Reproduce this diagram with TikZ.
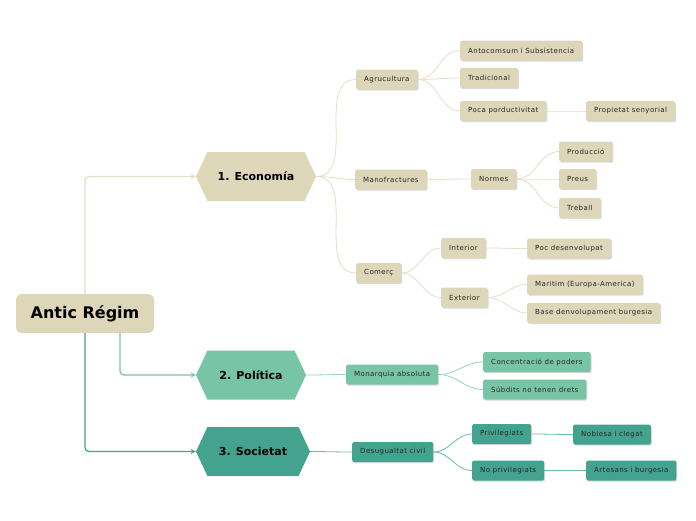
\documentclass[tikz,border=0pt]{standalone}
\usepackage{fontspec}
\setmainfont{DejaVu Sans}
\newfontfamily\itemfont[LetterSpace=6]{DejaVu Sans}
\usepackage{tikz}
\usetikzlibrary{arrows,shapes,positioning,shadows}
\usepackage{xcolor}
\definecolor{arbeige}{RGB}{221,214,185}
\definecolor{arbeigeline}{RGB}{228,222,198}
\definecolor{argreen}{RGB}{120,196,166}
\definecolor{argreenline}{RGB}{150,212,188}
\definecolor{arteal}{RGB}{67,163,142}
\definecolor{artealline}{RGB}{105,186,166}
\tikzstyle{root} = [rectangle, rounded corners=6pt, minimum width=138pt, minimum height=39pt, text centered, fill=arbeige, font=\fontsize{16}{19}\selectfont\bfseries]
\tikzstyle{topic} = [signal, signal to=west and east, signal pointer angle=130, minimum height=49pt, text centered, font=\fontsize{11}{13}\selectfont\bfseries]
\tikzstyle{item} = [rectangle, rounded corners=2pt, anchor=west, minimum height=20pt, inner xsep=8pt, text=black!85, font=\itemfont\fontsize{7}{8}\selectfont, drop shadow={shadow xshift=1pt, shadow yshift=-1.2pt, opacity=0.3}]
\tikzstyle{branch} = [line width=1.3pt,->,>=stealth,rounded corners=4pt]
\tikzstyle{twig} = [line width=0.8pt]

\begin{document}
\begin{tikzpicture}[x=1pt,y=-1pt]
\useasboundingbox (0,0) rectangle (696,520);
% Root and topics
\node (regim) [root] at (85,313.5) {Antic Régim};
\node (eco) [topic, fill=arbeige, minimum width=120pt] at (256,176.5) {1. Economía};
\node (pol) [topic, fill=argreen, minimum width=110pt] at (251,375) {2. Política};
\node (soc) [topic, fill=arteal, minimum width=114pt] at (253,451.5) {3. Societat};

% Economia
\node (agri) [item, fill=arbeige] at (356,79.5) {Agrucultura};
\node (manu) [item, fill=arbeige] at (355,179.5) {Manofractures};
\node (come) [item, fill=arbeige] at (356,273) {Comerç};
\node (auto) [item, fill=arbeige] at (460,50.5) {Antocomsum i Subsistencia};
\node (trad) [item, fill=arbeige] at (460,78) {Tradicional};
\node (poca) [item, fill=arbeige] at (460,111) {Poca porductivitat};
\node (prop) [item, fill=arbeige] at (586,111) {Propietat senyorial};
\node (norm) [item, fill=arbeige] at (471,179) {Normes};
\node (prod) [item, fill=arbeige] at (559,151.5) {Producció};
\node (preu) [item, fill=arbeige] at (559,179) {Preus};
\node (treb) [item, fill=arbeige] at (559,208) {Treball};
\node (inte) [item, fill=arbeige] at (441,248) {Interior};
\node (exte) [item, fill=arbeige] at (441,297.5) {Exterior};
\node (pocd) [item, fill=arbeige] at (527,248.5) {Poc desenvolupat};
\node (mari) [item, fill=arbeige] at (527,284.5) {Maritim (Europa-America)};
\node (base) [item, fill=arbeige] at (527,313) {Base denvolupament burgesia};

% Politica
\node (mona) [item, fill=argreen] at (346,374.5) {Monarquia absoluta};
\node (conc) [item, fill=argreen] at (483,362) {Concentració de poders};
\node (subd) [item, fill=argreen] at (483,389.5) {Súbdits no tenen drets};

% Societat
\node (desi) [item, fill=arteal] at (352,452) {Desugualtat civil};
\node (priv) [item, fill=arteal] at (472,434) {Privilegiats};
\node (nopr) [item, fill=arteal] at (472,470.5) {No privilegiats};
\node (nobl) [item, fill=arteal] at (573,434.5) {Noblesa i clegat};
\node (arte) [item, fill=arteal] at (586,470.5) {Artesans i burgesia};

% Branches from the root
\draw[branch, color=arbeigeline] (regim.north) |- (eco.west);
\draw[branch, color=argreen] ([xshift=35pt]regim.south) |- (pol.west);
\draw[branch, color=arteal] (regim.south) |- (soc.west);

% Twigs
\foreach \a/\b in {eco/agri, eco/manu, eco/come, agri/auto, agri/trad, agri/poca, poca/prop,
  manu/norm, norm/prod, norm/preu, norm/treb, come/inte, come/exte, inte/pocd, exte/mari, exte/base}
  \draw[twig, arbeigeline] (\a.east) to[out=0,in=180] (\b.west);
\foreach \a/\b in {pol/mona, mona/conc, mona/subd}
  \draw[twig, argreenline] (\a.east) to[out=0,in=180] (\b.west);
\foreach \a/\b in {soc/desi, desi/priv, desi/nopr, priv/nobl, nopr/arte}
  \draw[twig, artealline] (\a.east) to[out=0,in=180] (\b.west);
\end{tikzpicture}
\end{document}
